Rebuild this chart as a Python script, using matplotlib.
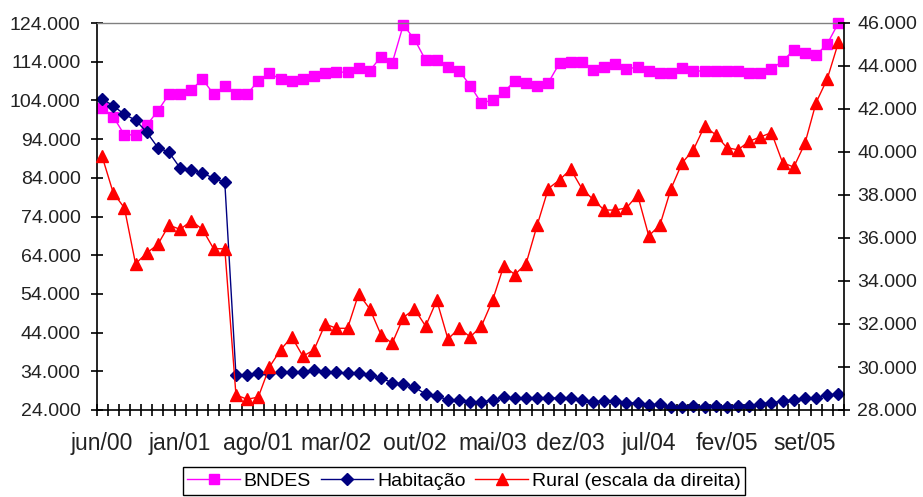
import numpy as np
import matplotlib
matplotlib.use("Agg")
import matplotlib.pyplot as plt
from matplotlib.ticker import FuncFormatter

plt.rcParams['font.family'] = ['Liberation Sans', 'DejaVu Sans']

# monthly series, jun/00 .. dez/05
bndes = [102100, 99800, 95100, 95100, 97600, 101300, 105600, 105600, 106700, 109500,
         105600, 107700, 105600, 105600, 109100, 111000, 109500, 109000, 109500, 110400,
         111000, 111300, 111300, 112300, 111700, 115300, 113600, 123500, 119800, 114400,
         114400, 112700, 111700, 107800, 103300, 104100, 106100, 109100, 108600, 107800,
         108600, 113600, 114000, 114000, 111900, 112700, 113300, 112000, 112700, 111600,
         111200, 111200, 112500, 111600, 111600, 111600, 111600, 111600, 111000, 111000,
         112100, 114200, 117000, 116300, 115700, 118600, 124000]
habitacao = [104400, 102600, 100400, 98900, 95800, 91800, 90600, 86500, 86000, 85200,
             83900, 82800, 33000, 33000, 33500, 33600, 33700, 33700, 33700, 34300,
             33700, 33700, 33500, 33600, 33000, 32200, 31100, 30700, 29900, 28100,
             27600, 26600, 26600, 26100, 26100, 26600, 27300, 27000, 27200, 27200,
             27200, 27000, 27000, 26600, 26100, 26300, 26300, 25700, 25900, 25300,
             25500, 24900, 24900, 25000, 24900, 25000, 24900, 25000, 25000, 25600,
             25900, 26300, 26600, 27000, 27200, 27900, 28100]
rural = [39800, 38100, 37400, 34800, 35300, 35700, 36600, 36400, 36800, 36400,
         35500, 35500, 28700, 28500, 28600, 30000, 30800, 31400, 30500, 30800,
         32000, 31800, 31800, 33400, 32700, 31500, 31100, 32300, 32700, 31900,
         33100, 31300, 31800, 31400, 31900, 33100, 34700, 34300, 34800, 36600,
         38300, 38700, 39200, 38300, 37800, 37300, 37300, 37400, 38000, 36100,
         36600, 38300, 39500, 40100, 41200, 40800, 40200, 40100, 40500, 40700,
         40900, 39500, 39300, 40400, 42300, 43400, 45100]
month_labels = ['jun/00', 'jan/01', 'ago/01', 'mar/02', 'out/02',
                'mai/03', 'dez/03', 'jul/04', 'fev/05', 'set/05']
label_step = 7

W, H = 923, 497
fig = plt.figure(figsize=(W / 100, H / 100), dpi=100)
ax = fig.add_axes([96.5 / W, 1 - 410 / H, (844 - 96.5) / W, (410 - 23) / H])
ax2 = ax.twinx()

x = np.arange(len(bndes))
l1, = ax.plot(x, bndes, color='#FF00FF', marker='s', ms=7.5, lw=1, clip_on=False,
              label='BNDES')
l2, = ax.plot(x, habitacao, color='#000080', marker='D', ms=6.3, lw=1, clip_on=False,
              label='Habitação')
l3, = ax2.plot(x, rural, color='#FF0000', marker='^', ms=9, lw=1, clip_on=False,
               label='Rural (escala da direita)')

ax.set_xlim(-0.5, len(x) - 0.5)
ax.set_ylim(24000, 124000)
ax2.set_ylim(28000, 46000)
ax.set_yticks(range(24000, 124001, 10000))
ax2.set_yticks(range(28000, 46001, 2000))

fmt = FuncFormatter(lambda v, p: f"{v:,.0f}".replace(',', '.'))
ax.yaxis.set_major_formatter(fmt)
ax2.yaxis.set_major_formatter(fmt)

# category boundaries carry the tick marks, labels sit on the months
ax.set_xticks(np.arange(-0.5, len(x), 1))
ax.set_xticks(x[::label_step], minor=True)
ax.set_xticklabels(month_labels, minor=True)
ax.tick_params(axis='x', which='major', direction='inout', length=9, width=1.2,
               labelbottom=False)
ax.tick_params(axis='x', which='minor', length=0, pad=16, labelsize=16.5,
               colors='#222222')
ax.tick_params(axis='y', direction='inout', length=9, width=1.2, pad=7,
               labelsize=14, labelcolor='#222222')
ax2.tick_params(axis='y', direction='inout', length=9, width=1.2, pad=5,
                labelsize=14, labelcolor='#222222')

for s in ['left', 'bottom']:
    ax.spines[s].set_color('black')
    ax.spines[s].set_linewidth(1.2)
ax.spines['right'].set_visible(False)
ax.spines['top'].set_color('#808080')
ax.spines['top'].set_linewidth(1)
for s in ['left', 'bottom', 'top']:
    ax2.spines[s].set_visible(False)
ax2.spines['right'].set_color('black')
ax2.spines['right'].set_linewidth(1.2)

leg = fig.legend([l1, l2, l3], [l1.get_label(), l2.get_label(), l3.get_label()],
                 loc='center', bbox_to_anchor=(464 / W, 1 - 481 / H), ncol=3,
                 fancybox=False, edgecolor='black', framealpha=1,
                 handlelength=2.7, handletextpad=0.2, columnspacing=0.5,
                 borderpad=0.25, prop={'size': 14})
leg.get_frame().set_linewidth(1)

fig.savefig('out.png', dpi=100)
